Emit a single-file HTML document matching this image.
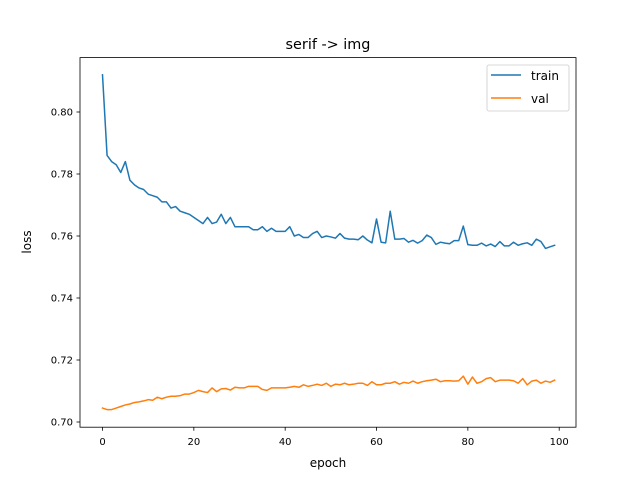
<!DOCTYPE html>
<html><head><meta charset="utf-8"><style>
body{margin:0;background:#fff}
svg text{font-family:"DejaVu Sans","Liberation Sans",sans-serif;fill:#000}
</style></head><body>
<svg id="chart" width="640" height="480" xmlns="http://www.w3.org/2000/svg">
<rect width="640" height="480" fill="#fff"/>
<text x="328" y="49" font-size="14.4" text-anchor="middle">serif -&gt; img</text>
<g id="plot"></g>
<rect x="80" y="57.6" width="496" height="369.6" fill="none" stroke="#000" stroke-width="0.8"/>
<g id="xticks"></g><g id="yticks"></g>
<text x="328" y="467" font-size="12" text-anchor="middle">epoch</text>
<text transform="translate(31,242) rotate(-90)" font-size="12" text-anchor="middle">loss</text>
<g>
<rect x="487" y="65" width="82" height="46" rx="2" fill="#fff" fill-opacity="0.8" stroke="#ccc" stroke-width="0.8"/>
<line x1="491" y1="75" x2="521" y2="75" stroke="#1f77b4" stroke-width="1.5"/>
<text x="531" y="80" font-size="12">train</text>
<line x1="491" y1="98" x2="521" y2="98" stroke="#ff7f0e" stroke-width="1.5"/>
<text x="531" y="103" font-size="12">val</text>
</g>
</svg>
<script>
const trainLoss=[0.812,0.786,0.784,0.783,0.7805,0.784,0.778,0.7765,0.7755,0.775,0.7735,0.773,0.7725,0.771,0.771,0.769,0.7695,0.768,0.7675,0.767,0.766,0.765,0.764,0.766,0.764,0.7645,0.767,0.764,0.766,0.763,0.763,0.763,0.763,0.762,0.762,0.763,0.7615,0.7625,0.7615,0.7615,0.7615,0.763,0.760,0.7605,0.7595,0.7595,0.7608,0.7615,0.7595,0.760,0.7597,0.7593,0.7608,0.7593,0.759,0.759,0.7588,0.760,0.7587,0.7578,0.7655,0.758,0.7578,0.768,0.759,0.759,0.7592,0.758,0.7586,0.7577,0.7585,0.7603,0.7595,0.7573,0.758,0.7577,0.7575,0.7585,0.7585,0.7632,0.7572,0.757,0.757,0.7577,0.7568,0.7574,0.7566,0.7582,0.7568,0.7568,0.758,0.757,0.7575,0.7578,0.757,0.759,0.7582,0.756,0.7565,0.757];
const valLoss=[0.7045,0.704,0.704,0.7045,0.705,0.7055,0.7058,0.7063,0.7065,0.7068,0.7072,0.707,0.708,0.7075,0.708,0.7083,0.7083,0.7085,0.709,0.709,0.7095,0.7102,0.7098,0.7095,0.711,0.7098,0.7107,0.7108,0.7103,0.7112,0.711,0.711,0.7115,0.7115,0.7115,0.7105,0.7102,0.711,0.711,0.711,0.711,0.7112,0.7115,0.7112,0.712,0.7115,0.7118,0.7122,0.7118,0.7125,0.7115,0.7122,0.712,0.7125,0.712,0.7122,0.7125,0.7125,0.7118,0.713,0.712,0.712,0.7125,0.7125,0.713,0.7122,0.7128,0.7125,0.7132,0.7125,0.713,0.7133,0.7135,0.7138,0.713,0.7133,0.7133,0.7132,0.7133,0.7148,0.7122,0.7145,0.7125,0.713,0.714,0.7143,0.713,0.7135,0.7135,0.7135,0.7133,0.7125,0.714,0.712,0.7132,0.7135,0.7125,0.7132,0.7128,0.7135];
const xTicks=[0,20,40,60,80,100];
const yTicks=[0.70,0.72,0.74,0.76,0.78,0.80];
const NS="http://www.w3.org/2000/svg";
function xs(v){return 102.5+v*4.567;}
function ys(v){return 422+(0.70-v)*3100;}
function mk(t,a,p){const e=document.createElementNS(NS,t);for(const k in a)e.setAttribute(k,a[k]);p.appendChild(e);return e;}
const plot=document.getElementById('plot');
function line(arr,color,name){
  const d=arr.map((v,i)=>(i?'L':'M')+xs(i).toFixed(2)+','+ys(v).toFixed(2)).join('');
  const p=mk('path',{d:d,fill:'none',stroke:color,'stroke-width':1.5,'stroke-linejoin':'round','stroke-linecap':'square'},plot);
  
  
}
line(trainLoss,'#1f77b4','train-line');
line(valLoss,'#ff7f0e','val-line');
const xg=document.getElementById('xticks');
xTicks.forEach(t=>{
  const l=mk('line',{x1:xs(t),x2:xs(t),y1:427.2,y2:430.7,stroke:'#000','stroke-width':0.8},xg);
  
  
  const tx=mk('text',{x:xs(t),y:445,'font-size':10,'text-anchor':'middle'},xg);
  tx.textContent=t;
  
  
});
const yg=document.getElementById('yticks');
yTicks.forEach(t=>{
  const l=mk('line',{x1:76.5,x2:80,y1:ys(t),y2:ys(t),stroke:'#000','stroke-width':0.8},yg);
  
  
  const tx=mk('text',{x:73,y:ys(t)+3.6,'font-size':10,'text-anchor':'end'},yg);
  tx.textContent=t.toFixed(2);
  
  
});
</script>
</body></html>
